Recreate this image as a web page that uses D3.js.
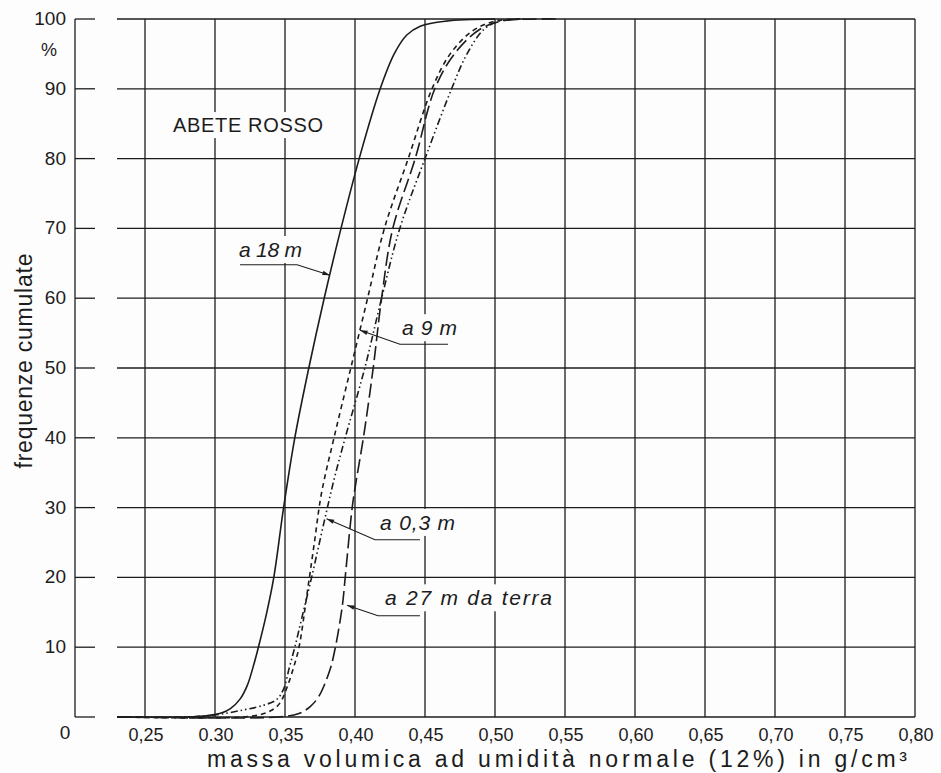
<!DOCTYPE html>
<html>
<head>
<meta charset="utf-8">
<script src="https://cdn.jsdelivr.net/npm/d3@7"></script>
<style>
  body { margin: 0; background: #fff; }
  svg { display: block; font-family: "Liberation Sans", Arial, sans-serif; }
</style>
</head>
<body>
<script>
// ticks
var xTicks = [0.25, 0.30, 0.35, 0.40, 0.45, 0.50, 0.55, 0.60, 0.65, 0.70, 0.75, 0.80];
var xTickLabels = ["0,25", "0.30", "0,35", "0,40", "0,45", "0,50", "0,55", "0,60", "0,65", "0,70", "0,75", "0,80"];
var yTicks = [0, 10, 20, 30, 40, 50, 60, 70, 80, 90, 100];

// cumulative frequency curves, [density g/cm3, %]
var curve18m = [[0.23,0],[0.28,0],[0.295,0.2],[0.305,0.6],[0.311,1.2],[0.318,2.6],[0.323,4.5],[0.327,7],
  [0.331,10],[0.337,15],[0.342,20],[0.349,30],[0.357,40],[0.367,50],[0.378,60],[0.390,70],[0.403,80],
  [0.418,90],[0.428,95],[0.437,97.7],[0.447,99],[0.465,99.7],[0.50,100]];
var curve9m = [[0.23,0],[0.32,0],[0.335,0.5],[0.343,1.3],[0.347,2.2],[0.351,4],[0.356,7],[0.360,10],
  [0.366,18],[0.371,25],[0.376,32],[0.385,40],[0.397,50],[0.409,60],[0.421,70],[0.438,80],[0.455,90],
  [0.468,95],[0.484,98.3],[0.50,99.7],[0.52,100]];
var curve03m = [[0.23,0],[0.28,0],[0.30,0.3],[0.32,1],[0.335,1.7],[0.344,2.5],[0.349,4],[0.353,7],
  [0.357,10],[0.363,15],[0.369,20],[0.378,28],[0.385,34],[0.393,40],[0.407,50],[0.419,60],[0.432,70],
  [0.450,80],[0.469,90],[0.480,95],[0.492,98.5],[0.503,99.7],[0.52,100]];
var curve27m = [[0.23,0],[0.345,0],[0.36,0.5],[0.368,1.5],[0.374,2.9],[0.382,6.7],[0.386,10],[0.391,16],
  [0.393,20],[0.398,30],[0.401,34],[0.406,40],[0.413,50],[0.419,60],[0.427,70],[0.443,80],[0.457,90],
  [0.471,95],[0.489,98.5],[0.505,99.7],[0.545,100]];

var seriesNames = ["a 18 m", "a 9 m", "a 0,3 m", "a 27 m da terra"];
var seriesData = [curve18m, curve9m, curve03m, curve27m];
var seriesDash = [null, "5,4", "7,3,1.5,3,1.5,3", "14,5"];

// annotation placement in data units
var labelPos = [[0.3171,65.9],[0.4336,54.7],[0.4179,26.8],[0.4214,16.0]];
var labelWidth = [63, 55, 75, 167];
var leaders = [
  [[0.3179,64.8],[0.3586,64.8],[0.3821,63.3]],
  [[0.4664,53.4],[0.4321,53.4],[0.4036,55.4]],
  [[0.4464,25.4],[0.4143,25.4],[0.3797,28.4]],
  [[0.4464,14.5],[0.4164,14.5],[0.3943,16.0]]
];

var ink = "#1c1c1c";
var W = 941, H = 773;

var svg = d3.select("body").append("svg")
    .attr("width", W)
    .attr("height", H)
    .style("background", "#fdfdfd");

var x = d3.scaleLinear().domain([0.20, 0.80]).range([75, 915]);
var y = d3.scaleLinear().domain([0, 100]).range([717, 19]);

svg.append("defs").append("marker")
    .attr("id", "arrow")
    .attr("viewBox", "0 -4 10 8")
    .attr("refX", 10)
    .attr("refY", 0)
    .attr("markerWidth", 9)
    .attr("markerHeight", 6)
    .attr("markerUnits", "userSpaceOnUse")
    .attr("orient", "auto")
  .append("path")
    .attr("d", "M0,-3L10,0L0,3Z")
    .attr("fill", ink);

var grid = svg.append("g").attr("stroke", ink).attr("stroke-width", 1.3);

// left axis + tick stubs
grid.append("line")
    .attr("x1", x(0.20)).attr("x2", x(0.20))
    .attr("y1", y(100)).attr("y2", y(0));
grid.selectAll(".stub").data(yTicks).enter().append("line")
    .attr("x1", x(0.20)).attr("x2", x(0.20) + 20)
    .attr("y1", function(d) { return y(d); })
    .attr("y2", function(d) { return y(d); });

// horizontal grid
grid.selectAll(".hg").data(yTicks).enter().append("line")
    .attr("x1", x(0.20) + 42).attr("x2", x(0.80))
    .attr("y1", function(d) { return y(d); })
    .attr("y2", function(d) { return y(d); });

// vertical grid
grid.selectAll(".vg").data(xTicks).enter().append("line")
    .attr("x1", function(d) { return x(d); })
    .attr("x2", function(d) { return x(d); })
    .attr("y1", y(0)).attr("y2", y(100));

// tick labels
svg.append("g").selectAll("text").data(yTicks).enter().append("text")
    .attr("x", function(d) { return d === 0 ? x(0.20) - 10 : x(0.20) - 9; })
    .attr("y", function(d) { return d === 0 ? y(0) + 22 : y(d) + 6; })
    .attr("text-anchor", function(d) { return d === 0 ? "middle" : "end"; })
    .attr("font-size", 19)
    .attr("fill", ink)
    .text(function(d) { return d; });

svg.append("text")
    .attr("x", 49).attr("y", y(95) + 2)
    .attr("text-anchor", "middle")
    .attr("font-size", 18)
    .attr("fill", ink)
    .text("%");

svg.append("g").selectAll("text").data(xTicks).enter().append("text")
    .attr("x", function(d) { return x(d) + 1; })
    .attr("y", y(0) + 24)
    .attr("text-anchor", "middle")
    .attr("font-size", 18)
    .attr("fill", ink)
    .text(function(d, i) { return xTickLabels[i]; });

// axis titles
svg.append("text")
    .attr("x", 557).attr("y", 767)
    .attr("text-anchor", "middle")
    .attr("font-size", 23)
    .attr("textLength", 700)
    .attr("lengthAdjust", "spacing")
    .attr("fill", ink)
    .text("massa volumica ad umidità normale (12%) in g/cm³");

svg.append("text")
    .attr("transform", "translate(32,361) rotate(-90)")
    .attr("text-anchor", "middle")
    .attr("font-size", 23)
    .attr("textLength", 215)
    .attr("lengthAdjust", "spacing")
    .attr("fill", ink)
    .text("frequenze cumulate");

// text on white patch, so grid lines break around it
function patchText(g, str, px, py, size, width, italic) {
  var t = g.append("text")
      .attr("x", px).attr("y", py)
      .attr("font-size", size)
      .attr("font-style", italic ? "italic" : "normal")
      .attr("textLength", width)
      .attr("lengthAdjust", "spacing")
      .attr("fill", ink)
      .text(str);
  var b = t.node().getBBox();
  g.insert("rect", function() { return t.node(); })
      .attr("x", b.x - 4).attr("y", b.y - 2)
      .attr("width", b.width + 8).attr("height", b.height + 4)
      .attr("fill", "#fdfdfd");
}

var labels = svg.append("g");
patchText(labels, "ABETE ROSSO", x(0.27), y(83.8), 20, 150, false);
seriesNames.forEach(function(name, i) {
  patchText(labels, name, x(labelPos[i][0]), y(labelPos[i][1]), 21, labelWidth[i], true);
});

// curves
var line = d3.line()
    .x(function(d) { return x(d[0]); })
    .y(function(d) { return y(d[1]); })
    .curve(d3.curveCatmullRom.alpha(0.5));

svg.append("g").selectAll("path").data(seriesData).enter().append("path")
    .attr("d", line)
    .attr("fill", "none")
    .attr("stroke", ink)
    .attr("stroke-width", 1.6)
    .attr("stroke-dasharray", function(d, i) { return seriesDash[i]; });

// leader lines with arrows
var leaderLine = d3.line()
    .x(function(d) { return x(d[0]); })
    .y(function(d) { return y(d[1]); });

svg.append("g").selectAll("path").data(leaders).enter().append("path")
    .attr("d", leaderLine)
    .attr("fill", "none")
    .attr("stroke", ink)
    .attr("stroke-width", 1.1)
    .attr("marker-end", "url(#arrow)");
</script>
</body>
</html>
